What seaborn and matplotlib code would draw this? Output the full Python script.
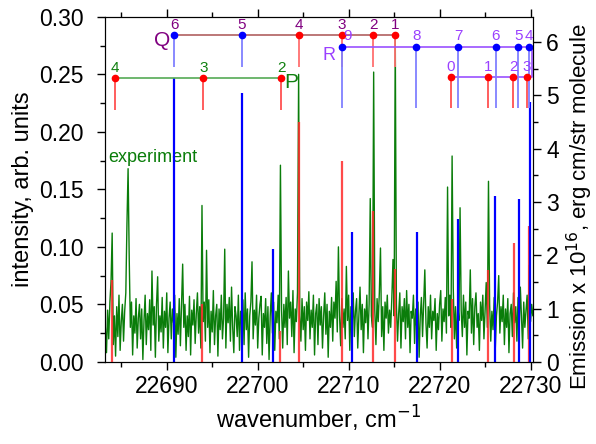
import numpy as np
import matplotlib
matplotlib.use("Agg")
import matplotlib.pyplot as plt
import seaborn as sns
from matplotlib.ticker import MultipleLocator, FormatStrFormatter

sns.set_style("ticks", rc={'axes.edgecolor': 'black', 'xtick.color': 'black',
                           'ytick.color': 'black', 'text.color': 'black',
                           'axes.labelcolor': 'black'})
plt.rcParams['font.family'] = ['Liberation Sans', 'DejaVu Sans']

# ---------- data ----------
# experiment: sampled every 0.125 cm-1 starting at 22683.25
wn_start, wn_step = 22683.25, 0.125
exp_int = [
    .030, .008, .045, .020, .052, .070, .112, .015, .040, .005,
    .048, .022, .058, .010, .035, .050, .018, .044, .060, .120,
    .168, .090, .030, .052, .006, .040, .025, .055, .012, .038,
    .050, .020, .046, .002, .036, .058, .015, .042, .028, .054,
    .010, .079, .032, .048, .004, .050, .074, .018, .040, .026,
    .056, .012, .044, .030, .060, .008, .038, .052, .020, .046,
    .034, .058, .004, .042, .024, .055, .014, .048, .085, .030,
    .050, .010, .040, .022, .057, .006, .045, .032, .054, .016,
    .042, .060, .025, .048, .012, .136, .035, .052, .018, .097,
    .030, .054, .008, .044, .026, .062, .015, .040, .050, .005,
    .046, .028, .058, .020, .038, .098, .012, .050, .034, .056,
    .018, .065, .030, .008, .048, .040, .022, .058, .010, .044,
    .036, .054, .015, .060, .028, .046, .004, .040, .052, .087,
    .020, .045, .032, .058, .012, .038, .050, .057, .006, .042,
    .030, .055, .016, .048, .002, .040, .060, .025, .052, .010,
    .044, .034, .058, .020, .171, .045, .012, .050, .030, .056,
    .015, .079, .038, .052, .022, .062, .008, .046, .035, .060,
    .250, .040, .018, .055, .028, .048, .010, .052, .036, .061,
    .020, .045, .030, .058, .006, .042, .050, .015, .055, .032,
    .048, .012, .040, .060, .024, .050, .004, .044, .030, .056,
    .018, .052, .038, .070, .026, .100, .040, .014, .055, .030,
    .046, .020, .083, .036, .058, .010, .048, .030, .060, .022,
    .044, .055, .012, .040, .065, .028, .050, .008, .046, .034,
    .058, .020, .050, .142, .040, .030, .252, .045, .015, .055,
    .035, .060, .099, .022, .048, .010, .052, .038, .058, .025,
    .045, .030, .056, .089, .040, .285, .050, .018, .042, .060,
    .012, .048, .035, .055, .020, .062, .030, .050, .008, .044,
    .038, .058, .016, .046, .028, .052, .004, .040, .056, .022,
    .050, .080, .034, .012, .048, .030, .058, .020, .044, .036,
    .055, .010, .042, .028, .050, .062, .018, .046, .035, .056,
    .025, .152, .040, .058, .030, .179, .065, .020, .048, .012,
    .050, .036, .134, .045, .022, .058, .030, .052, .006, .044,
    .038, .080, .025, .055, .015, .048, .060, .030, .042, .010,
    .052, .036, .058, .020, .045, .069, .030, .157, .050, .018,
    .044, .028, .056, .012, .040, .052, .075, .025, .048, .035,
    .058, .015, .046, .030, .055, .008, .042, .050, .022, .060,
    .034, .048, .018, .056, .028, .065, .040, .012, .052, .030,
    .045, .058, .020, .084, .035, .050, .040,
]

# calculated emission sticks (right axis)
blue_wn = [22690.80, 22698.24, 22701.63, 22710.38, 22717.47, 22722.04, 22726.11, 22728.71, 22729.98]
blue_em = [5.33, 5.04, 2.11, 2.43, 2.43, 2.68, 3.11, 3.06, 4.88]
red_wn = [22683.99, 22693.88, 22702.45, 22704.54, 22709.26, 22712.73, 22715.09, 22721.38, 22725.36, 22728.16, 22729.78]
red_em = [1.54, 1.09, 0.57, 4.50, 3.76, 2.82, 1.74, 1.18, 1.73, 2.23, 2.55]

# branch assignments
q_wn = [22690.80, 22698.24, 22704.57, 22709.26, 22712.70, 22715.09]
q_lab = ['6', '5', '4', '3', '2', '1']
q_col = ['blue', 'blue', 'red', 'red', 'red', 'red']
p_wn = [22684.32, 22694.02, 22702.59]
p_lab = ['4', '3', '2']
r_hi_wn = [22709.30, 22717.43, 22722.04, 22726.15, 22728.64, 22729.78]
r_hi_lab = ['9', '8', '7', '6', '5', '4']
r_lo_wn = [22721.24, 22725.31, 22728.09, 22729.56]
r_lo_lab = ['0', '1', '2', '3']

# ---------- figure ----------
fig, ax = plt.subplots(figsize=(5.96, 4.44), dpi=100)
fig.subplots_adjust(left=0.176, right=0.894, bottom=0.185, top=0.962)

wn = wn_start + wn_step * np.arange(len(exp_int))
sns.lineplot(x=wn, y=exp_int, ax=ax, color='#0a7d0a', lw=1.0)
ax.set_xlim(22683.2, 22730.25)
ax.set_ylim(0, 0.30)
ax.text(22683.55, 0.178, 'experiment', color='#0a7d0a', fontsize=13, va='center')

ax2 = ax.twinx()
ax2.set_ylim(0, 6.47)
ax2.vlines(red_wn, 0, red_em, color='#ff2a2a', lw=1.6, alpha=0.85)
ax2.vlines(blue_wn, 0, blue_em, color='#0000ff', lw=1.6)

mcol = {'blue': '#0000ff', 'red': '#ff0000'}
lcol = {'blue': '#8080ff', 'red': '#ff7070'}

# Q branch
q_y, q_bot = 6.13, 5.53
ax2.plot([q_wn[0], q_wn[-1]], [q_y, q_y], color='#b06060', lw=1.2)
for x, l, c in zip(q_wn, q_lab, q_col):
    ax2.vlines(x, q_bot, q_y, color=lcol[c], lw=1.3)
    ax2.plot(x, q_y, 'o', color=mcol[c], ms=4.5)
    ax2.annotate(l, (x, q_y), xytext=(0, 7.5), textcoords='offset points',
                 ha='center', va='center', color='#800080', fontsize=11)
ax2.text(22689.48, 6.02, 'Q', color='#800080', fontsize=15, ha='center', va='center')

# P branch
p_y, p_bot = 5.32, 4.73
ax2.plot([p_wn[0], p_wn[-1]], [p_y, p_y], color='#55aa55', lw=1.2)
for x, l in zip(p_wn, p_lab):
    ax2.vlines(x, p_bot, p_y, color='#ff5050', lw=1.3)
    ax2.plot(x, p_y, 'o', color='#ff0000', ms=4.5)
    ax2.annotate(l, (x, p_y), xytext=(0, 7.5), textcoords='offset points',
                 ha='center', va='center', color='#108010', fontsize=11)
ax2.text(22703.65, 5.23, 'P', color='#108010', fontsize=15, ha='center', va='center')

# R branch
r_hi, r_lo, r_bot, r_end = 5.91, 5.34, 4.77, 22730.12
ax2.plot([r_hi_wn[0], r_end, r_end, r_lo_wn[0]], [r_hi, r_hi, r_lo, r_lo],
         color='#9a50ff', lw=1.2)
for i, (x, l) in enumerate(zip(r_hi_wn, r_hi_lab)):
    ax2.vlines(x, r_bot, r_hi, color='#8080ff', lw=1.3)
    ax2.plot(x, r_hi, 'o', color='#0000ff', ms=4.5)
    ax2.annotate(l, (x, r_hi), xytext=(3.5 if i == 0 else 0, 7.5), textcoords='offset points',
                 ha='center', va='center', color='#9a40ff', fontsize=11)
for x, l in zip(r_lo_wn, r_lo_lab):
    ax2.vlines(x, r_bot, r_lo, color='#ff5050', lw=1.3)
    ax2.plot(x, r_lo, 'o', color='#ff0000', ms=4.5)
    ax2.annotate(l, (x, r_lo), xytext=(0, 7.5), textcoords='offset points',
                 ha='center', va='center', color='#9a40ff', fontsize=11)
ax2.text(22707.85, 5.74, 'R', color='#9a40ff', fontsize=13, ha='center', va='center')

# ---------- axes ----------
ax.xaxis.set_major_locator(MultipleLocator(10))
ax.xaxis.set_minor_locator(MultipleLocator(5))
ax.yaxis.set_major_locator(MultipleLocator(0.05))
ax.yaxis.set_minor_locator(MultipleLocator(0.025))
ax.yaxis.set_major_formatter(FormatStrFormatter('%.2f'))
ax2.yaxis.set_major_locator(MultipleLocator(1))
ax2.yaxis.set_minor_locator(MultipleLocator(0.5))
ax.tick_params(which='both', direction='out', top=True, labelsize=16.5, width=1)
ax.tick_params(which='major', length=6)
ax.tick_params(which='minor', length=3.5)
ax.tick_params(axis='y', which='major', pad=9)
ax2.tick_params(which='both', direction='out', labelsize=16.5, width=1)
ax2.tick_params(which='major', length=6)
ax2.tick_params(which='minor', length=3.5)

ax.set_xlabel('wavenumber, cm$^{-1}$', fontsize=17)
ax.set_ylabel('intensity, arb. units', fontsize=17)
ax2.set_ylabel('Emission x 10$^{16}$, erg cm/str molecule', fontsize=16)
ax2.yaxis.set_label_coords(1.075, 0.45)

plt.savefig('out.png', dpi=100)
